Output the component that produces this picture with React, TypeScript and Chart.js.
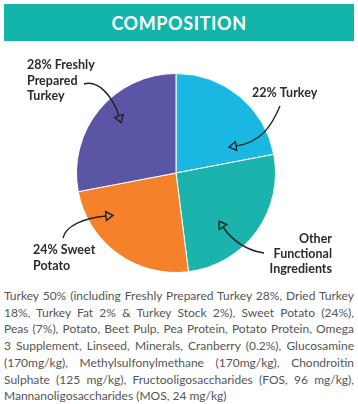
import React, { useEffect, useRef } from "react";
import { Chart, registerables } from "chart.js";

Chart.register(...registerables);

const categories = ["22% Turkey", "Other Functional Ingredients", "24% Sweet Potato", "28% Freshly Prepared Turkey"];
const values = [22, 26, 24, 28];
const colors = ["#1ab7e2", "#1ab4ac", "#f5822a", "#5a55a5"];

const labelLines: string[][] = [
  ["22% Turkey"],
  ["Other", "Functional", "Ingredients"],
  ["24% Sweet", "Potato"],
  ["28% Freshly", "Prepared", "Turkey"],
];

const title = "COMPOSITION";
const paragraphLines = [
  "Turkey 50% (including Freshly Prepared Turkey 28%, Dried Turkey",
  "18%, Turkey Fat 2% & Turkey Stock 2%), Sweet Potato (24%),",
  "Peas (7%), Potato, Beet Pulp, Pea Protein, Potato Protein, Omega",
  "3 Supplement, Linseed, Minerals, Cranberry (0.2%), Glucosamine",
  "(170mg/kg), Methylsulfonylmethane (170mg/kg), Chondroitin",
  "Sulphate (125 mg/kg), Fructooligosaccharides (FOS, 96 mg/kg),",
  "Mannanoligosaccharides (MOS, 24 mg/kg)",
];

const CANVAS_TOP = 43;

// annotation layout (page coords): label anchor, alignment, line centers, arrow path
const annotations = [
  { x: 252, ys: [93], align: "left", path: [[280, 106], [272, 125], [262, 142], [236, 146]] },
  { x: 332, ys: [239, 254, 269], align: "right", path: [[264, 253], [245, 250], [232, 240], [223, 227]] },
  { x: 33, ys: [250, 266], align: "left", path: [[63, 238], [66, 225], [85, 218], [106, 216]] },
  { x: 27, ys: [65, 81, 96], align: "left", path: [[84, 84], [98, 80], [112, 95], [119, 116]] },
];

const annotationPlugin = {
  id: "annot",
  afterDraw(chart: any) {
    const ctx = chart.ctx as CanvasRenderingContext2D;
    ctx.save();
    ctx.fillStyle = "#2b2b2b";
    ctx.strokeStyle = "#222";
    ctx.font = "bold 12.5px Lato";
    ctx.textBaseline = "middle";
    annotations.forEach((a, i) => {
      ctx.textAlign = a.align as CanvasTextAlign;
      labelLines[i].forEach((t, j) => {
        ctx.fillText(t, a.x, a.ys[j] - CANVAS_TOP);
      });
      const p = a.path.map(([x, y]) => [x, y - CANVAS_TOP]);
      ctx.lineWidth = 1.4;
      ctx.beginPath();
      ctx.moveTo(p[0][0], p[0][1]);
      ctx.bezierCurveTo(p[1][0], p[1][1], p[2][0], p[2][1], p[3][0], p[3][1]);
      ctx.stroke();
      // arrowhead: small open triangle
      const dx = p[3][0] - p[2][0];
      const dy = p[3][1] - p[2][1];
      const ang = Math.atan2(dy, dx);
      const L = 7;
      const W = 4.5;
      const tipX = p[3][0] + Math.cos(ang) * L;
      const tipY = p[3][1] + Math.sin(ang) * L;
      const nx = -Math.sin(ang);
      const ny = Math.cos(ang);
      ctx.beginPath();
      ctx.moveTo(tipX, tipY);
      ctx.lineTo(p[3][0] + nx * W, p[3][1] + ny * W);
      ctx.lineTo(p[3][0] - nx * W, p[3][1] - ny * W);
      ctx.closePath();
      ctx.stroke();
    });
    ctx.restore();
  },
};

export default function App() {
  const ref = useRef<HTMLCanvasElement>(null);
  useEffect(() => {
    document.body.style.margin = "0";
    const chart = new Chart(ref.current!, {
      type: "pie",
      data: {
        labels: categories,
        datasets: [
          {
            data: values,
            backgroundColor: colors,
            borderColor: "#ffffff",
            borderWidth: 1,
          },
        ],
      },
      options: {
        responsive: false,
        animation: false,
        devicePixelRatio: 1,
        layout: { padding: { left: 76, right: 82, top: 30, bottom: 10 } },
        plugins: { legend: { display: false }, tooltip: { enabled: false } },
      },
      plugins: [annotationPlugin],
    });
    return () => chart.destroy();
  }, []);

  return (
    <div style={{ position: "relative", width: 358, height: 404, background: "#fff", overflow: "hidden", fontFamily: "Lato, sans-serif" }}>
      <div
        style={{
          position: "absolute",
          left: 4,
          top: 4,
          width: 350,
          height: 37,
          background: "#13b5ab",
          color: "#fff",
          fontWeight: 700,
          fontSize: 18,
          letterSpacing: 0.6,
          display: "flex",
          alignItems: "center",
          justifyContent: "center",
        }}
      >
        {title}
      </div>
      <canvas ref={ref} width={358} height={240} style={{ position: "absolute", left: 0, top: CANVAS_TOP }} />
      <div style={{ position: "absolute", left: 4, top: 288, width: 350, fontSize: 12, lineHeight: "16.7px", color: "#555" }}>
        {paragraphLines.map((l, i) => (
          <div key={i} style={{ textAlign: "justify", textAlignLast: i < paragraphLines.length - 1 ? "justify" : "left", whiteSpace: "nowrap" }}>
            {l}
          </div>
        ))}
      </div>
    </div>
  );
}
